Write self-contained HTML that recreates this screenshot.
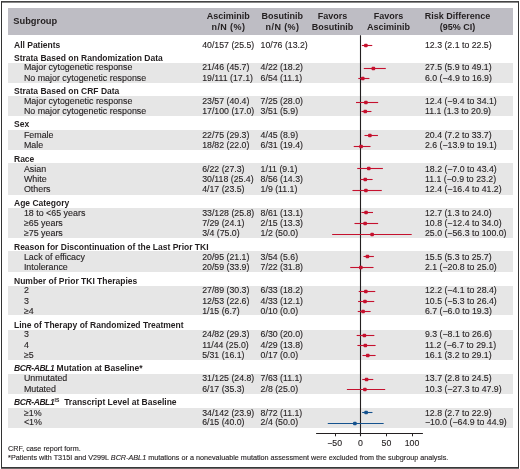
<!DOCTYPE html>
<html><head><meta charset="utf-8"><style>
html,body{margin:0;padding:0;background:#fff;}
#root{position:relative;will-change:transform;width:520px;height:469px;overflow:hidden;background:#fff;font-family:"Liberation Sans",sans-serif;color:#231f20;}
#frame{position:absolute;left:1px;top:1px;width:516px;height:465px;border-left:1px solid #333;border-right:1px solid #333;border-top:1px solid #444;border-bottom:1px solid #383838;box-shadow:inset 0 1px 0 #888,0 1px 0 #6a6a6a;}
.hb{position:absolute;left:8px;top:8px;width:505px;height:26.5px;background:#bebdc4;}
.band{position:absolute;left:8.3px;width:504.3px;background:#e6e6e6;}
.b,.l,.n,.h,.f{position:absolute;white-space:nowrap;}
.b{font-weight:bold;font-size:8.5px;line-height:8.5px;}
.l,.n,.f{-webkit-text-stroke:0.12px #231f20;}
.l{font-size:8.9px;line-height:8.9px;}
.n{font-size:8.75px;line-height:8.75px;}
.h{font-weight:bold;font-size:9.0px;line-height:9.0px;}
.f{font-size:7.23px;line-height:7.23px;}
.c{text-align:center;}
b i,.b i{letter-spacing:-0.4px;}
sup{font-size:5px;vertical-align:0;position:relative;top:-3.5px;margin-left:0.3px;margin-right:2.5px;}
svg{position:absolute;left:0;top:0;}
</style></head><body><div id="root">
<div id="frame"></div>
<div class="hb"></div>
<div class="band" style="top:63.00px;height:20.00px"></div>
<div class="band" style="top:96.20px;height:20.10px"></div>
<div class="band" style="top:129.90px;height:19.70px"></div>
<div class="band" style="top:163.00px;height:31.80px"></div>
<div class="band" style="top:208.00px;height:30.00px"></div>
<div class="band" style="top:251.20px;height:21.20px"></div>
<div class="band" style="top:285.70px;height:29.50px"></div>
<div class="band" style="top:329.60px;height:30.50px"></div>
<div class="band" style="top:374.00px;height:19.70px"></div>
<div class="band" style="top:408.00px;height:20.00px"></div>
<svg width="520" height="469" viewBox="0 0 520 469">
<line x1="316.1" y1="433.5" x2="422.9" y2="433.5" stroke="#231f20" stroke-width="1.1"/>
<line x1="335.50" y1="433.4" x2="335.50" y2="436.3" stroke="#231f20" stroke-width="1"/>
<line x1="386.50" y1="433.4" x2="386.50" y2="436.3" stroke="#231f20" stroke-width="1"/>
<line x1="412.50" y1="433.4" x2="412.50" y2="436.3" stroke="#231f20" stroke-width="1"/>
<line x1="360.5" y1="35.3" x2="360.5" y2="436.2" stroke="#231f20" stroke-width="1.1"/>
<line x1="361.87" y1="45.50" x2="372.25" y2="45.50" stroke="#c5112e" stroke-width="1.1"/>
<rect x="364.06" y="43.75" width="3.6" height="3.5" rx="0.9" fill="#c5112e"/>
<line x1="363.80" y1="68.50" x2="385.79" y2="68.50" stroke="#c5112e" stroke-width="1.1"/>
<rect x="371.56" y="66.75" width="3.6" height="3.5" rx="0.9" fill="#c5112e"/>
<line x1="358.31" y1="78.50" x2="369.40" y2="78.50" stroke="#c5112e" stroke-width="1.1"/>
<rect x="360.96" y="76.75" width="3.6" height="3.5" rx="0.9" fill="#c5112e"/>
<line x1="356.02" y1="102.50" x2="378.16" y2="102.50" stroke="#c5112e" stroke-width="1.1"/>
<rect x="364.11" y="100.75" width="3.6" height="3.5" rx="0.9" fill="#c5112e"/>
<line x1="361.46" y1="111.50" x2="371.44" y2="111.50" stroke="#c5112e" stroke-width="1.1"/>
<rect x="363.47" y="109.75" width="3.6" height="3.5" rx="0.9" fill="#c5112e"/>
<line x1="364.46" y1="135.50" x2="377.95" y2="135.50" stroke="#c5112e" stroke-width="1.1"/>
<rect x="368.06" y="133.75" width="3.6" height="3.5" rx="0.9" fill="#c5112e"/>
<line x1="353.72" y1="146.50" x2="370.52" y2="146.50" stroke="#c5112e" stroke-width="1.1"/>
<rect x="359.28" y="144.75" width="3.6" height="3.5" rx="0.9" fill="#c5112e"/>
<line x1="357.24" y1="168.50" x2="382.89" y2="168.50" stroke="#c5112e" stroke-width="1.1"/>
<rect x="366.97" y="166.75" width="3.6" height="3.5" rx="0.9" fill="#c5112e"/>
<line x1="360.34" y1="179.50" x2="372.61" y2="179.50" stroke="#c5112e" stroke-width="1.1"/>
<rect x="363.47" y="177.75" width="3.6" height="3.5" rx="0.9" fill="#c5112e"/>
<line x1="352.45" y1="190.50" x2="381.77" y2="190.50" stroke="#c5112e" stroke-width="1.1"/>
<rect x="364.11" y="188.75" width="3.6" height="3.5" rx="0.9" fill="#c5112e"/>
<line x1="361.46" y1="212.50" x2="373.02" y2="212.50" stroke="#c5112e" stroke-width="1.1"/>
<rect x="364.26" y="210.75" width="3.6" height="3.5" rx="0.9" fill="#c5112e"/>
<line x1="354.49" y1="223.50" x2="378.11" y2="223.50" stroke="#c5112e" stroke-width="1.1"/>
<rect x="363.32" y="221.75" width="3.6" height="3.5" rx="0.9" fill="#c5112e"/>
<line x1="332.14" y1="234.50" x2="411.70" y2="234.50" stroke="#c5112e" stroke-width="1.1"/>
<rect x="370.32" y="232.75" width="3.6" height="3.5" rx="0.9" fill="#c5112e"/>
<line x1="363.50" y1="256.50" x2="373.88" y2="256.50" stroke="#c5112e" stroke-width="1.1"/>
<rect x="365.64" y="254.75" width="3.6" height="3.5" rx="0.9" fill="#c5112e"/>
<line x1="350.21" y1="267.50" x2="373.53" y2="267.50" stroke="#c5112e" stroke-width="1.1"/>
<rect x="359.04" y="265.75" width="3.6" height="3.5" rx="0.9" fill="#c5112e"/>
<line x1="358.71" y1="291.50" x2="375.26" y2="291.50" stroke="#c5112e" stroke-width="1.1"/>
<rect x="364.01" y="289.75" width="3.6" height="3.5" rx="0.9" fill="#c5112e"/>
<line x1="358.10" y1="301.50" x2="374.24" y2="301.50" stroke="#c5112e" stroke-width="1.1"/>
<rect x="363.18" y="299.75" width="3.6" height="3.5" rx="0.9" fill="#c5112e"/>
<line x1="357.75" y1="311.50" x2="370.62" y2="311.50" stroke="#c5112e" stroke-width="1.1"/>
<rect x="361.30" y="309.75" width="3.6" height="3.5" rx="0.9" fill="#c5112e"/>
<line x1="356.68" y1="335.50" x2="374.34" y2="335.50" stroke="#c5112e" stroke-width="1.1"/>
<rect x="362.58" y="333.75" width="3.6" height="3.5" rx="0.9" fill="#c5112e"/>
<line x1="357.39" y1="345.50" x2="375.61" y2="345.50" stroke="#c5112e" stroke-width="1.1"/>
<rect x="363.52" y="343.75" width="3.6" height="3.5" rx="0.9" fill="#c5112e"/>
<line x1="362.43" y1="355.50" x2="375.61" y2="355.50" stroke="#c5112e" stroke-width="1.1"/>
<rect x="365.94" y="353.75" width="3.6" height="3.5" rx="0.9" fill="#c5112e"/>
<line x1="362.23" y1="379.50" x2="373.27" y2="379.50" stroke="#c5112e" stroke-width="1.1"/>
<rect x="364.75" y="377.75" width="3.6" height="3.5" rx="0.9" fill="#c5112e"/>
<line x1="346.90" y1="389.50" x2="385.18" y2="389.50" stroke="#c5112e" stroke-width="1.1"/>
<rect x="363.08" y="387.75" width="3.6" height="3.5" rx="0.9" fill="#c5112e"/>
<line x1="362.17" y1="412.50" x2="372.46" y2="412.50" stroke="#15528e" stroke-width="1.1"/>
<rect x="364.31" y="410.75" width="3.6" height="3.5" rx="0.9" fill="#15528e"/>
<line x1="327.77" y1="423.50" x2="383.65" y2="423.50" stroke="#15528e" stroke-width="1.1"/>
<rect x="353.07" y="421.75" width="3.6" height="3.5" rx="0.9" fill="#15528e"/>
</svg>
<div class="b" style="left:14.00px;top:41.00px;">All Patients</div>
<div class="n" style="left:202.20px;top:41.00px;">40/157 (25.5)</div>
<div class="n" style="left:260.60px;top:41.00px;">10/76 (13.2)</div>
<div class="n" style="left:425.00px;top:41.00px;">12.3 (2.1 to 22.5)</div>
<div class="b" style="left:14.00px;top:54.00px;">Strata Based on Randomization Data</div>
<div class="l" style="left:23.90px;top:63.00px;">Major cytogenetic response</div>
<div class="n" style="left:202.20px;top:63.00px;">21/46 (45.7)</div>
<div class="n" style="left:260.60px;top:63.00px;">4/22 (18.2)</div>
<div class="n" style="left:425.00px;top:63.00px;">27.5 (5.9 to 49.1)</div>
<div class="l" style="left:23.90px;top:74.00px;">No major cytogenetic response</div>
<div class="n" style="left:202.20px;top:74.00px;">19/111 (17.1)</div>
<div class="n" style="left:260.60px;top:74.00px;">6/54 (11.1)</div>
<div class="n" style="left:425.00px;top:74.00px;">6.0 (−4.9 to 16.9)</div>
<div class="b" style="left:14.00px;top:87.00px;">Strata Based on CRF Data</div>
<div class="l" style="left:23.90px;top:97.00px;">Major cytogenetic response</div>
<div class="n" style="left:202.20px;top:97.00px;">23/57 (40.4)</div>
<div class="n" style="left:260.60px;top:97.00px;">7/25 (28.0)</div>
<div class="n" style="left:425.00px;top:97.00px;">12.4 (−9.4 to 34.1)</div>
<div class="l" style="left:23.90px;top:107.00px;">No major cytogenetic response</div>
<div class="n" style="left:202.20px;top:107.00px;">17/100 (17.0)</div>
<div class="n" style="left:260.60px;top:107.00px;">3/51 (5.9)</div>
<div class="n" style="left:425.00px;top:107.00px;">11.1 (1.3 to 20.9)</div>
<div class="b" style="left:14.00px;top:120.00px;">Sex</div>
<div class="l" style="left:23.90px;top:131.00px;">Female</div>
<div class="n" style="left:202.20px;top:131.00px;">22/75 (29.3)</div>
<div class="n" style="left:260.60px;top:131.00px;">4/45 (8.9)</div>
<div class="n" style="left:425.00px;top:131.00px;">20.4 (7.2 to 33.7)</div>
<div class="l" style="left:23.90px;top:141.00px;">Male</div>
<div class="n" style="left:202.20px;top:141.00px;">18/82 (22.0)</div>
<div class="n" style="left:260.60px;top:141.00px;">6/31 (19.4)</div>
<div class="n" style="left:425.00px;top:141.00px;">2.6 (−13.9 to 19.1)</div>
<div class="b" style="left:14.00px;top:155.00px;">Race</div>
<div class="l" style="left:23.90px;top:165.00px;">Asian</div>
<div class="n" style="left:202.20px;top:165.00px;">6/22 (27.3)</div>
<div class="n" style="left:260.60px;top:165.00px;">1/11 (9.1)</div>
<div class="n" style="left:425.00px;top:165.00px;">18.2 (−7.0 to 43.4)</div>
<div class="l" style="left:23.90px;top:175.00px;">White</div>
<div class="n" style="left:202.20px;top:175.00px;">30/118 (25.4)</div>
<div class="n" style="left:260.60px;top:175.00px;">8/56 (14.3)</div>
<div class="n" style="left:425.00px;top:175.00px;">11.1 (−0.9 to 23.2)</div>
<div class="l" style="left:23.90px;top:185.00px;">Others</div>
<div class="n" style="left:202.20px;top:185.00px;">4/17 (23.5)</div>
<div class="n" style="left:260.60px;top:185.00px;">1/9 (11.1)</div>
<div class="n" style="left:425.00px;top:185.00px;">12.4 (−16.4 to 41.2)</div>
<div class="b" style="left:14.00px;top:199.00px;">Age Category</div>
<div class="l" style="left:23.90px;top:209.00px;">18 to &lt;65 years</div>
<div class="n" style="left:202.20px;top:209.00px;">33/128 (25.8)</div>
<div class="n" style="left:260.60px;top:209.00px;">8/61 (13.1)</div>
<div class="n" style="left:425.00px;top:209.00px;">12.7 (1.3 to 24.0)</div>
<div class="l" style="left:23.90px;top:219.00px;">≥65 years</div>
<div class="n" style="left:202.20px;top:219.00px;">7/29 (24.1)</div>
<div class="n" style="left:260.60px;top:219.00px;">2/15 (13.3)</div>
<div class="n" style="left:425.00px;top:219.00px;">10.8 (−12.4 to 34.0)</div>
<div class="l" style="left:23.90px;top:229.00px;">≥75 years</div>
<div class="n" style="left:202.20px;top:229.00px;">3/4 (75.0)</div>
<div class="n" style="left:260.60px;top:229.00px;">1/2 (50.0)</div>
<div class="n" style="left:425.00px;top:229.00px;">25.0 (−56.3 to 100.0)</div>
<div class="b" style="left:14.00px;top:243.00px;">Reason for Discontinuation of the Last Prior TKI</div>
<div class="l" style="left:23.90px;top:253.00px;">Lack of efficacy</div>
<div class="n" style="left:202.20px;top:253.00px;">20/95 (21.1)</div>
<div class="n" style="left:260.60px;top:253.00px;">3/54 (5.6)</div>
<div class="n" style="left:425.00px;top:253.00px;">15.5 (5.3 to 25.7)</div>
<div class="l" style="left:23.90px;top:263.00px;">Intolerance</div>
<div class="n" style="left:202.20px;top:263.00px;">20/59 (33.9)</div>
<div class="n" style="left:260.60px;top:263.00px;">7/22 (31.8)</div>
<div class="n" style="left:425.00px;top:263.00px;">2.1 (−20.8 to 25.0)</div>
<div class="b" style="left:14.00px;top:277.00px;">Number of Prior TKI Therapies</div>
<div class="l" style="left:23.90px;top:286.00px;">2</div>
<div class="n" style="left:202.20px;top:286.00px;">27/89 (30.3)</div>
<div class="n" style="left:260.60px;top:286.00px;">6/33 (18.2)</div>
<div class="n" style="left:425.00px;top:286.00px;">12.2 (−4.1 to 28.4)</div>
<div class="l" style="left:23.90px;top:297.00px;">3</div>
<div class="n" style="left:202.20px;top:297.00px;">12/53 (22.6)</div>
<div class="n" style="left:260.60px;top:297.00px;">4/33 (12.1)</div>
<div class="n" style="left:425.00px;top:297.00px;">10.5 (−5.3 to 26.4)</div>
<div class="l" style="left:23.90px;top:307.00px;">≥4</div>
<div class="n" style="left:202.20px;top:307.00px;">1/15 (6.7)</div>
<div class="n" style="left:260.60px;top:307.00px;">0/10 (0.0)</div>
<div class="n" style="left:425.00px;top:307.00px;">6.7 (−6.0 to 19.3)</div>
<div class="b" style="left:14.00px;top:321.00px;">Line of Therapy of Randomized Treatment</div>
<div class="l" style="left:23.90px;top:330.00px;">3</div>
<div class="n" style="left:202.20px;top:330.00px;">24/82 (29.3)</div>
<div class="n" style="left:260.60px;top:330.00px;">6/30 (20.0)</div>
<div class="n" style="left:425.00px;top:330.00px;">9.3 (−8.1 to 26.6)</div>
<div class="l" style="left:23.90px;top:341.00px;">4</div>
<div class="n" style="left:202.20px;top:341.00px;">11/44 (25.0)</div>
<div class="n" style="left:260.60px;top:341.00px;">4/29 (13.8)</div>
<div class="n" style="left:425.00px;top:341.00px;">11.2 (−6.7 to 29.1)</div>
<div class="l" style="left:23.90px;top:351.00px;">≥5</div>
<div class="n" style="left:202.20px;top:351.00px;">5/31 (16.1)</div>
<div class="n" style="left:260.60px;top:351.00px;">0/17 (0.0)</div>
<div class="n" style="left:425.00px;top:351.00px;">16.1 (3.2 to 29.1)</div>
<div class="b" style="left:14.00px;top:364.00px;"><i>BCR-ABL1</i> Mutation at Baseline*</div>
<div class="l" style="left:23.90px;top:374.00px;">Unmutated</div>
<div class="n" style="left:202.20px;top:374.00px;">31/125 (24.8)</div>
<div class="n" style="left:260.60px;top:374.00px;">7/63 (11.1)</div>
<div class="n" style="left:425.00px;top:374.00px;">13.7 (2.8 to 24.5)</div>
<div class="l" style="left:23.90px;top:385.00px;">Mutated</div>
<div class="n" style="left:202.20px;top:385.00px;">6/17 (35.3)</div>
<div class="n" style="left:260.60px;top:385.00px;">2/8 (25.0)</div>
<div class="n" style="left:425.00px;top:385.00px;">10.3 (−27.3 to 47.9)</div>
<div class="b" style="left:14.00px;top:398.00px;"><i>BCR-ABL1</i><sup>IS</sup> Transcript Level at Baseline</div>
<div class="l" style="left:23.90px;top:409.00px;">≥1%</div>
<div class="n" style="left:202.20px;top:409.00px;">34/142 (23.9)</div>
<div class="n" style="left:260.60px;top:409.00px;">8/72 (11.1)</div>
<div class="n" style="left:425.00px;top:409.00px;">12.8 (2.7 to 22.9)</div>
<div class="l" style="left:23.90px;top:418.00px;">&lt;1%</div>
<div class="n" style="left:202.20px;top:418.00px;">6/15 (40.0)</div>
<div class="n" style="left:260.60px;top:418.00px;">2/4 (50.0)</div>
<div class="n" style="left:425.00px;top:418.00px;">−10.0 (−64.9 to 44.9)</div>
<div class="h" style="left:13.30px;top:17.00px;font-size:9.3px;line-height:9.3px">Subgroup</div>
<div class="h c" style="left:168.20px;top:12.00px;width:120px">Asciminib</div>
<div class="h c" style="left:168.40px;top:23.00px;width:120px"><span style="letter-spacing:0.4px">n/N (%)</span></div>
<div class="h c" style="left:222.30px;top:12.00px;width:120px">Bosutinib</div>
<div class="h c" style="left:222.50px;top:23.00px;width:120px"><span style="letter-spacing:0.4px">n/N (%)</span></div>
<div class="h c" style="left:272.60px;top:12.00px;width:120px">Favors</div>
<div class="h c" style="left:272.60px;top:23.00px;width:120px">Bosutinib</div>
<div class="h c" style="left:328.60px;top:12.00px;width:120px">Favors</div>
<div class="h c" style="left:328.60px;top:23.00px;width:120px">Asciminib</div>
<div class="h c" style="left:397.60px;top:12.00px;width:120px">Risk Difference</div>
<div class="h c" style="left:397.60px;top:23.00px;width:120px">(95% CI)</div>
<div class="n c" style="left:314.60px;top:439.00px;width:40px">−50</div>
<div class="n c" style="left:340.40px;top:439.00px;width:40px">0</div>
<div class="n c" style="left:366.40px;top:439.00px;width:40px">50</div>
<div class="n c" style="left:392.00px;top:439.00px;width:40px">100</div>
<div class="f" style="left:8.10px;top:445.00px;">CRF, case report form.</div>
<div class="f" style="left:8.10px;top:454.00px;">*Patients with T315I and V299L <i>BCR-ABL1</i> mutations or a nonevaluable mutation assessment were excluded from the subgroup analysis.</div>
</div></body></html>
